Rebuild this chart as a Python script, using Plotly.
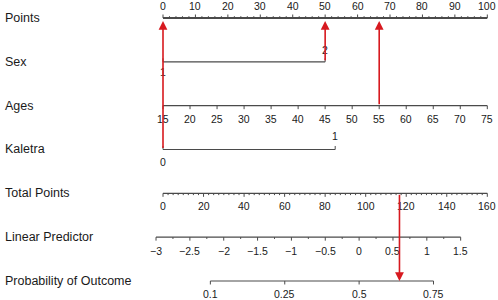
import math
import plotly.graph_objects as go

# ---------------- data ----------------
row_names = ["Points", "Sex", "Ages", "Kaletra", "Total Points",
             "Linear Predictor", "Probability of Outcome"]

points_ticks = list(range(0, 101, 10))
points_minor = list(range(0, 101, 2))

sex_levels = ["1", "2"]
sex_points = [0, 50]

age_ticks = list(range(15, 76, 5))
age_range = [15, 75]          # spans 0..100 points

kaletra_levels = ["0", "1"]
kaletra_points = [0, 53.1]

total_ticks = list(range(0, 161, 20))
total_minor = [i * 2.5 for i in range(0, 65)]
total_range = [0, 160]

lp_ticks = [-3, -2.5, -2, -1.5, -1, -0.5, 0, 0.5, 1, 1.5]
lp_minor = [-3 + 0.25 * i for i in range(0, 19)]
lp_at_zero_total = -2.897
lp_per_total_point = 0.02994

prob_ticks = [0.1, 0.25, 0.5, 0.75]
prob_labels = ["0.1", "0.25", "0.5", "0.75"]

patient_sex_points = 50
patient_age = 55
patient_kaletra_points = 0

# ---------------- scales ----------------
W, H = 498, 300
pts0_px, pts100_px = 163.0, 487.3
ppp = (pts100_px - pts0_px) / 100.0
x_range = [-pts0_px / ppp, (W - pts0_px) / ppp]

row0_px, row_step = 18.0, 43.83
y_range = [(H - row0_px) / row_step, -row0_px / row_step]
PX = 1.0 / row_step  # one pixel in y units


def age_x(a):
    return (a - age_range[0]) / (age_range[1] - age_range[0]) * 100


def total_x(t):
    return (t - total_range[0]) / (total_range[1] - total_range[0]) * 100


def lp_x(lp):
    return total_x((lp - lp_at_zero_total) / lp_per_total_point)


def prob_x(p):
    return lp_x(math.log(p / (1 - p)))


def fmt(v):
    s = ("%g" % v)
    return s.replace("-", "\u2212")


AX_COL = "#4a4a4a"
TXT_COL = "#1a1a1a"
RED = "#d7191f"
FONT = "Arial, 'Liberation Sans', sans-serif"

fig = go.Figure()
annotations = []


def add_line(x0, x1, row, width=1.2):
    fig.add_trace(go.Scatter(x=[x0, x1], y=[row, row], mode="lines",
                             line=dict(color=AX_COL, width=width),
                             hoverinfo="skip", showlegend=False))


def add_ticks(xs, row, length_px, up):
    tx, ty = [], []
    d = -length_px * PX if up else length_px * PX
    for x in xs:
        tx += [x, x, None]
        ty += [row, row + d, None]
    fig.add_trace(go.Scatter(x=tx, y=ty, mode="lines",
                             line=dict(color=AX_COL, width=1),
                             hoverinfo="skip", showlegend=False))


def add_label(x, row, text, shift):
    annotations.append(dict(x=x, y=row, xref="x", yref="y", text=text,
                            showarrow=False, yshift=shift,
                            font=dict(size=10.5, color=TXT_COL, family=FONT),
                            xanchor="center", yanchor="middle"))


# Points (row 0)
r = 0
add_line(0, 100, r, width=2)
add_ticks([v for v in points_minor if v % 10], r, 1.8, up=True)
add_ticks(points_ticks, r, 3.5, up=True)
for v in points_ticks:
    add_label(v, r, fmt(v), 12)

# Sex (row 1)
r = 1
add_line(min(sex_points), max(sex_points), r)
add_ticks(sex_points, r, 3.5, up=True)
add_label(sex_points[0], r, sex_levels[0], -10)
add_label(sex_points[1], r, sex_levels[1], 12)

# Ages (row 2)
r = 2
add_line(age_x(age_range[0]), age_x(age_range[1]), r)
add_ticks([age_x(a) for a in age_ticks], r, 3.5, up=False)
for a in age_ticks:
    add_label(age_x(a), r, fmt(a), -13)

# Kaletra (row 3)
r = 3
add_line(min(kaletra_points), max(kaletra_points), r)
add_ticks(kaletra_points, r, 3.5, up=True)
add_label(kaletra_points[0], r, kaletra_levels[0], -13)
add_label(kaletra_points[1], r, kaletra_levels[1], 13)

# Total Points (row 4)
r = 4
add_line(total_x(total_range[0]), total_x(total_range[1]), r)
add_ticks([total_x(v) for v in total_minor if v % 20], r, 1.8, up=False)
add_ticks([total_x(v) for v in total_ticks], r, 3.5, up=False)
for v in total_ticks:
    add_label(total_x(v), r, fmt(v), -13)

# Linear Predictor (row 5)
r = 5
add_line(lp_x(lp_ticks[0]), lp_x(lp_ticks[-1]), r)
add_ticks([lp_x(v) for v in lp_minor if abs(v * 2 - round(v * 2)) > 1e-9], r, 1.8, up=False)
add_ticks([lp_x(v) for v in lp_ticks], r, 3.5, up=False)
for v in lp_ticks:
    add_label(lp_x(v), r, fmt(v), -13.5)

# Probability (row 6)
r = 6
add_line(prob_x(prob_ticks[0]), prob_x(prob_ticks[-1]), r)
add_ticks([prob_x(p) for p in prob_ticks], r, 3.5, up=False)
for p, lab in zip(prob_ticks, prob_labels):
    add_label(prob_x(p), r, lab, -13)

# row names
for i, name in enumerate(row_names):
    annotations.append(dict(x=3 / W, y=i, xref="paper", yref="y", text=name,
                            showarrow=False, xanchor="left", yanchor="middle",
                            yshift=0,
                            font=dict(size=12.5, color=TXT_COL, family=FONT)))

# red arrows: predictor values up to the Points axis
patient_age_points = age_x(patient_age)
arrow_src = [(patient_kaletra_points, 3), (patient_sex_points, 1), (patient_age_points, 2)]
for xv, row in arrow_src:
    annotations.append(dict(x=xv, y=0, ax=xv, ay=row, xref="x", yref="y",
                            axref="x", ayref="y", text="", showarrow=True,
                            arrowhead=2, arrowsize=1.1, arrowwidth=1.6,
                            arrowcolor=RED, standoff=3))

total_patient = patient_sex_points + patient_age_points + patient_kaletra_points
tx = total_x(total_patient)
annotations.append(dict(x=tx, y=6, ax=tx, ay=4, xref="x", yref="y",
                        axref="x", ayref="y", text="", showarrow=True,
                        arrowhead=2, arrowsize=1.1, arrowwidth=1.6,
                        arrowcolor=RED, standoff=0))

fig.update_layout(
    width=W, height=H,
    margin=dict(l=0, r=0, t=0, b=0),
    paper_bgcolor="white", plot_bgcolor="white",
    font=dict(family=FONT),
    xaxis=dict(range=x_range, visible=False, fixedrange=True),
    yaxis=dict(range=y_range, visible=False, fixedrange=True),
    annotations=annotations,
    showlegend=False,
)

fig.write_html("out.html", config={"displayModeBar": False},
               post_script="document.body.style.margin='0';document.body.style.overflow='hidden';")
